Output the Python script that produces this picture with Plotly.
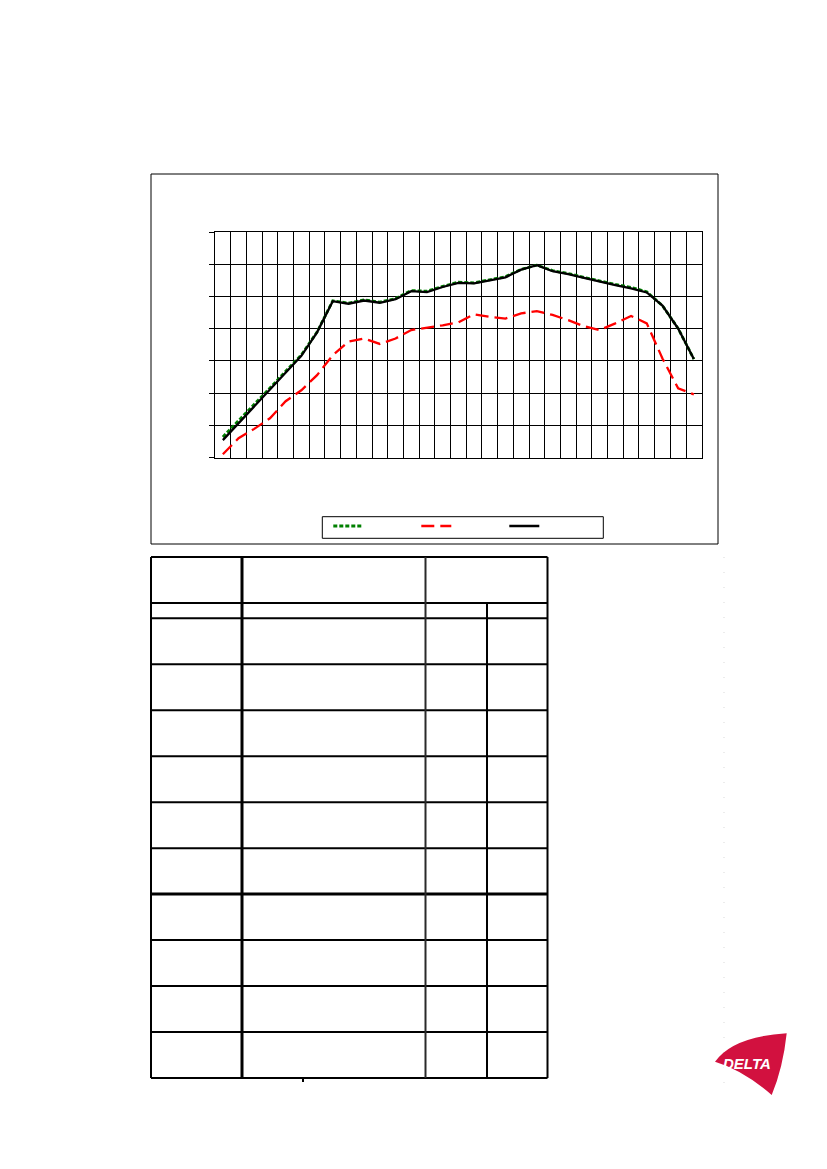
import plotly.graph_objects as go

W, H = 827, 1169
OFF = 8  # page body margin in the browser

# ---- data (1/3-octave bands, levels in dB) ----
bands = ["20", "25", "31.5", "40", "50", "63", "80", "100", "125", "160", "200",
         "250", "315", "400", "500", "630", "800", "1000", "1250", "1600", "2000",
         "2500", "3150", "4000", "5000", "6300", "8000", "10000", "12500", "16000", "20000"]

series_green = [26.4, 31.4, 36.5, 41.6, 46.8, 51.9, 59.0, 68.7, 68.0, 69.0, 68.3,
                69.4, 71.9, 71.7, 73.2, 74.5, 74.3, 75.3, 76.2, 78.5, 79.8,
                78.1, 77.2, 76.0, 74.8, 73.8, 72.9, 71.5, 67.2, 60.1, 50.6]
series_red = [21.0, 26.0, 28.9, 32.2, 37.5, 40.9, 45.6, 51.8, 56.0, 57.0, 55.3,
              57.0, 59.6, 60.3, 61.1, 62.0, 64.5, 63.7, 63.2, 64.8, 65.5,
              64.3, 62.7, 60.8, 59.6, 61.7, 64.0, 61.7, 50.8, 41.5, 39.6]
series_black = [25.4, 30.6, 35.8, 41.0, 46.3, 51.6, 58.9, 68.6, 67.8, 68.8, 68.1,
                69.2, 71.7, 71.4, 73.0, 74.3, 74.1, 75.1, 76.0, 78.4, 79.8,
                77.9, 77.0, 75.8, 74.6, 73.6, 72.6, 71.3, 67.2, 60.1, 50.6]

y_min, y_max, y_step = 20, 90, 10


def X(px):
    return (px - OFF) / W


def Y(py):
    return 1 - (py - OFF) / H


fig = go.Figure()
fig.add_trace(go.Scatter(x=bands, y=series_green, mode="lines", name="",
                         line=dict(color="#008000", width=2.8, dash="4px,2px"),
                         showlegend=True))
fig.add_trace(go.Scatter(x=bands, y=series_red, mode="lines", name="",
                         line=dict(color="#FF0000", width=2.3, dash="13px,6px"),
                         showlegend=True))
fig.add_trace(go.Scatter(x=bands, y=series_black, mode="lines", name="",
                         line=dict(color="#000000", width=2.3),
                         showlegend=True, legendwidth=51))

shapes = []
# chart outer frame
shapes.append(dict(type="rect", xref="paper", yref="paper",
                   x0=X(151), x1=X(718), y0=Y(544), y1=Y(174),
                   line=dict(color="black", width=1), layer="below"))
# legend frame
shapes.append(dict(type="rect", xref="paper", yref="paper",
                   x0=X(322.3), x1=X(603.3), y0=Y(538.3), y1=Y(516.7),
                   line=dict(color="black", width=1), layer="below"))

# table grid (borders only)
tcols = [151, 242, 425.5, 487, 547.5]
trows = [557, 603, 618.3, 664.3, 710.3, 756.2, 802.2, 848.2, 894.1, 940.1,
         986.1, 1032.1, 1078]


def hline(y, x0, x1, w=2, c="black"):
    shapes.append(dict(type="line", xref="paper", yref="paper",
                       x0=X(x0), x1=X(x1), y0=Y(y), y1=Y(y),
                       line=dict(color=c, width=w)))


def vline(x, y0, y1, w=2, c="black"):
    shapes.append(dict(type="line", xref="paper", yref="paper",
                       x0=X(x), x1=X(x), y0=Y(y0), y1=Y(y1),
                       line=dict(color=c, width=w)))


for i, r in enumerate(trows):
    hline(r, tcols[0], tcols[-1], w=3 if i == 8 else 2)
vline(tcols[0], trows[0], trows[-1], 2)
vline(tcols[1], trows[0], trows[-1], 3)
vline(tcols[2], trows[0], trows[-1], 2, "#2a2a2a")
vline(tcols[3], trows[1], trows[-1], 2)
vline(tcols[4], trows[0], trows[-1], 2)
# small tick under the table
vline(303, 1078, 1082, 2)

# faint dotted margin line
shapes.append(dict(type="line", xref="paper", yref="paper",
                   x0=X(724), x1=X(724), y0=Y(557), y1=Y(1090),
                   line=dict(color="#d9d9d9", width=1, dash="1px,14px")))

# DELTA logo shape
pts = dict(L=(715, 1061.7), TR=(786.7, 1033.3), B=(771.7, 1095))
c1 = (733, 1036.5)
c2 = (783, 1068)
c3 = (743, 1070)
path = (f"M {X(pts['L'][0])},{Y(pts['L'][1])} "
        f"Q {X(c1[0])},{Y(c1[1])} {X(pts['TR'][0])},{Y(pts['TR'][1])} "
        f"Q {X(c2[0])},{Y(c2[1])} {X(pts['B'][0])},{Y(pts['B'][1])} "
        f"Q {X(c3[0])},{Y(c3[1])} {X(pts['L'][0])},{Y(pts['L'][1])} Z")
shapes.append(dict(type="path", xref="paper", yref="paper", path=path,
                   fillcolor="#D2113F", line=dict(width=0)))

annotations = [dict(text="<b><i>DELTA</i></b>", x=X(747), y=Y(1063),
                    xref="paper", yref="paper", showarrow=False,
                    xanchor="center", yanchor="middle",
                    font=dict(family="Liberation Sans", size=15, color="white"))]

fig.update_layout(
    width=W, height=H,
    margin=dict(l=0, r=0, t=0, b=0),
    paper_bgcolor="white", plot_bgcolor="white",
    xaxis=dict(domain=[X(215), X(701.7)], type="category",
               range=[-0.5, len(bands) - 0.5], tickson="boundaries",
               showgrid=True, gridcolor="black", gridwidth=1.4,
               showticklabels=False, ticks="",
               showline=True, linecolor="black", linewidth=1.4, mirror=True,
               zeroline=False, fixedrange=True),
    yaxis=dict(domain=[Y(457.5), Y(232.3)], range=[y_min, y_max], dtick=y_step,
               tick0=y_min,
               showgrid=True, gridcolor="black", gridwidth=1.4,
               showticklabels=False, ticks="outside", ticklen=5,
               tickcolor="black", tickwidth=1.4,
               showline=True, linecolor="black", linewidth=1.4, mirror=True,
               zeroline=False, fixedrange=True),
    showlegend=True,
    legend=dict(orientation="h", x=X(322.3), y=Y(526),
                xanchor="left", yanchor="middle",
                borderwidth=0, bgcolor="rgba(0,0,0,0)",
                entrywidth=37, entrywidthmode="pixels", indentation=6,
                font=dict(size=10), traceorder="normal"),
    shapes=shapes,
    annotations=annotations,
)

fig.write_html("out.html")
